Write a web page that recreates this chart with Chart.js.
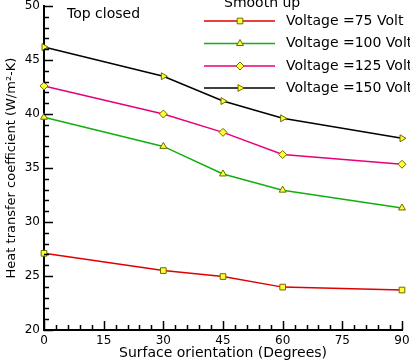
<!DOCTYPE html>
<html>
<head>
<meta charset="utf-8">
<script src="https://cdn.jsdelivr.net/npm/chart.js@4/dist/chart.umd.min.js"></script>
<style>
  html, body { margin: 0; padding: 0; background: #fff; }
  #wrap { width: 410px; height: 362px; position: relative; }
</style>
</head>
<body>
<div id="wrap"><canvas id="chart"></canvas></div>
<script>
// surface orientation in degrees
const angles = [0, 30, 45, 60, 90];
const volt75 = [27.1, 25.5, 24.95, 23.97, 23.7];
const volt100 = [39.7, 37.0, 34.45, 32.95, 31.3];
const volt125 = [42.6, 40.0, 38.3, 36.25, 35.35];
const volt150 = [46.2, 43.5, 41.2, 39.6, 37.75];
const seriesLabels = ['Voltage =75 Volt', 'Voltage =100 Volt', 'Voltage =125 Volt', 'Voltage =150 Volt'];
const xTicks = [0, 15, 30, 45, 60, 75, 90];
const yTicks = [20, 25, 30, 35, 40, 45, 50];

const FONT = 'DejaVu Sans';

function pts(vals) {
  return angles.map((a, i) => ({ x: a, y: vals[i] }));
}

function makeSet(label, vals, color, style, rot) {
  return {
    label: label,
    data: pts(vals),
    borderColor: color,
    borderWidth: 1.5,
    backgroundColor: '#ffff33',
    pointBackgroundColor: '#ffff33',
    pointBorderColor: '#6b6b00',
    pointBorderWidth: 1,
    pointStyle: style,
    pointRotation: rot || 0,
    pointRadius: 4,
    tension: 0,
    clip: false
  };
}

const sets = [
  makeSet(seriesLabels[0], volt75, '#e00000', 'rect', 0),
  makeSet(seriesLabels[1], volt100, '#10b010', 'triangle', 0),
  makeSet(seriesLabels[2], volt125, '#e8007a', 'rectRot', 0),
  makeSet(seriesLabels[3], volt150, '#000000', 'triangle', 90)
];

// inward ticks + text labels inside plot
const decor = {
  id: 'decor',
  afterDatasetsDraw(chart) {
    const ctx = chart.ctx;
    const xs = chart.scales.x, ys = chart.scales.y;
    const ca = chart.chartArea;
    ctx.save();
    ctx.strokeStyle = '#000';
    ctx.lineWidth = 1.5;
    ctx.beginPath();
    for (let v = 20; v <= 50; v += 1) {
      const y = Math.round(ys.getPixelForValue(v)) + 0.5;
      const len = v % 5 === 0 ? 9 : 5;
      ctx.moveTo(ca.left, y);
      ctx.lineTo(ca.left + len, y);
    }
    for (let v = 0; v <= 90; v += 3) {
      const x = Math.round(xs.getPixelForValue(v)) + 0.5;
      const len = v % 15 === 0 ? 9 : 5;
      ctx.moveTo(x, ca.bottom);
      ctx.lineTo(x, ca.bottom - len);
    }
    ctx.stroke();

    ctx.fillStyle = '#000';
    ctx.font = '14px ' + FONT;
    ctx.textBaseline = 'middle';
    ctx.textAlign = 'left';
    ctx.fillText('Top closed', 67, 14);
    ctx.fillText('Smooth up', 224, 3);

    // legend
    ctx.font = '14px ' + FONT;
    const rows = [21, 43.5, 66, 88];
    chart.data.datasets.forEach((ds, i) => {
      const y = rows[i];
      ctx.strokeStyle = ds.borderColor;
      ctx.lineWidth = 1.5;
      ctx.beginPath();
      ctx.moveTo(204, y);
      ctx.lineTo(275, y);
      ctx.stroke();
      ctx.fillStyle = ds.pointBackgroundColor;
      ctx.strokeStyle = ds.pointBorderColor;
      ctx.lineWidth = 1;
      Chart.helpers.drawPoint(ctx, { pointStyle: ds.pointStyle, rotation: ds.pointRotation, radius: 4, borderWidth: 1 }, 240, y);
      ctx.fillStyle = '#000';
      ctx.fillText(ds.label, 286, y);
    });
    ctx.restore();
  }
};

new Chart(document.getElementById('chart'), {
  type: 'line',
  data: { datasets: sets },
  options: {
    responsive: true,
    maintainAspectRatio: false,
    animation: false,
    layout: { padding: { top: 6, right: 8, left: 0, bottom: 0 } },
    plugins: { legend: { display: false }, tooltip: { enabled: false } },
    scales: {
      x: {
        type: 'linear',
        min: 0, max: 90,
        afterFit(s) { s.height = 32; s.paddingLeft = 0; s.paddingRight = 0; },
        afterBuildTicks(s) { s.ticks = xTicks.map(v => ({ value: v })); },
        grid: { display: false, drawTicks: false },
        border: { display: true, color: '#000', width: 2 },
        ticks: { color: '#000', font: { family: FONT, size: 12 }, padding: 4, maxRotation: 0 },
        title: { display: true, text: 'Surface orientation (Degrees)', color: '#000', font: { family: FONT, size: 14 }, padding: 0 }
      },
      y: {
        type: 'linear',
        min: 20, max: 50,
        afterFit(s) { s.width = 44; s.paddingTop = 0; s.paddingBottom = 0; },
        afterBuildTicks(s) { s.ticks = yTicks.map(v => ({ value: v })); },
        grid: { display: false, drawTicks: false },
        border: { display: true, color: '#000', width: 2 },
        ticks: { color: '#000', font: { family: FONT, size: 12 }, padding: 4 },
        title: { display: true, text: 'Heat transfer coefficient (W/m²-K)', color: '#000', font: { family: FONT, size: 13 }, padding: { top: 4 } }
      }
    }
  },
  plugins: [decor]
});
</script>
</body>
</html>
